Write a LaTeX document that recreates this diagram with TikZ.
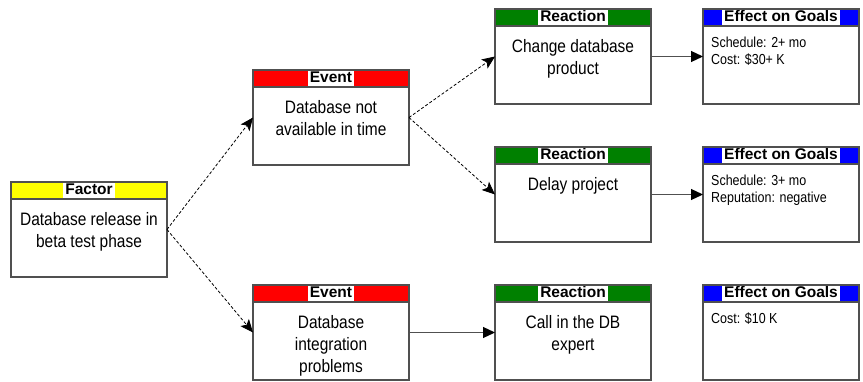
\documentclass[tikz,border=0pt]{standalone}
\usepackage{fontspec}
\setmainfont{Liberation Sans}
\newfontfamily\narrowf[FakeStretch=0.86]{Liberation Sans}
\usetikzlibrary{arrows.meta}
\definecolor{bordergray}{HTML}{505050}
\definecolor{hdryellow}{HTML}{FFFF00}
\definecolor{hdrred}{HTML}{FF0000}
\definecolor{hdrgreen}{HTML}{008000}
\definecolor{hdrblue}{HTML}{0000FF}
\tikzset{
  riskbox/.style={draw=bordergray, line width=1.3pt, minimum width=156pt, minimum height=95pt, inner sep=0pt, outer sep=0pt},
  hdrlabel/.style={fill=white, font=\fontsize{15.5}{15.5}\selectfont\bfseries, inner xsep=2pt, inner ysep=0pt, minimum height=15pt, text height=11pt, text depth=3pt},
  bodytext/.style={font=\narrowf\fontsize{18}{22}\selectfont, align=center, inner sep=0pt, anchor=north},
  effecttext/.style={font=\narrowf\fontsize{14.5}{17}\selectfont, align=left, inner sep=0pt, anchor=north west},
  dasharrow/.style={draw=black, line width=0.8pt, dash pattern=on 3pt off 2pt, -{Stealth[length=13pt,width=11pt,inset=3pt]}},
  solidarrow/.style={draw=bordergray, line width=1.2pt, -{Triangle[length=12pt,width=11pt,fill=black,color=black]}}
}
% name, cx, cy, colour, header, body
\newcommand\mkbox[6]{%
  \fill[#4] (#2-78,#3-47.5) rectangle (#2+78,#3-30.5);
  \node[hdrlabel] (#1h) at (#2,#3-39) {#5};
  \node[bodytext] (#1t) at (#2,#3-18.5) {\rule{0pt}{14pt}#6};
  \node[riskbox] (#1) at (#2,#3) {};
  \draw[bordergray, line width=1.3pt] (#2-78,#3-30.5) -- (#2+78,#3-30.5);
}
\newcommand\mkeffect[6]{%
  \fill[#4] (#2-78,#3-47.5) rectangle (#2+78,#3-30.5);
  \node[hdrlabel] (#1h) at (#2,#3-39) {#5};
  \node[effecttext] (#1t) at (#2-70,#3-20.5) {\rule{0pt}{11pt}#6};
  \node[riskbox] (#1) at (#2,#3) {};
  \draw[bordergray, line width=1.3pt] (#2-78,#3-30.5) -- (#2+78,#3-30.5);
}
\begin{document}
\begin{tikzpicture}[x=1pt,y=-1pt]
\useasboundingbox (0,0) rectangle (863,381);
\mkbox{F}{89}{229.5}{hdryellow}{Factor}{Database release in\\beta test phase}
\mkbox{EA}{331}{117.5}{hdrred}{Event}{Database not\\available in time}
\mkbox{EB}{331}{332.5}{hdrred}{Event}{Database\\integration\\problems}
\mkbox{RA}{573}{56.5}{hdrgreen}{Reaction}{Change database\\product}
\mkbox{RB}{573}{194.5}{hdrgreen}{Reaction}{Delay project}
\mkbox{RC}{573}{332.5}{hdrgreen}{Reaction}{Call in the DB\\expert}
\mkeffect{GA}{781}{56.5}{hdrblue}{Effect on Goals}{Schedule: 2+ mo\\Cost: \$30+ K}
\mkeffect{GB}{781}{194.5}{hdrblue}{Effect on Goals}{Schedule: 3+ mo\\Reputation: negative}
\mkeffect{GC}{781}{332.5}{hdrblue}{Effect on Goals}{Cost: \$10 K}
\draw[dasharrow] (F.east) -- (EA.west);
\draw[dasharrow] (F.east) -- (EB.west);
\draw[dasharrow] (EA.east) -- (RA.west);
\draw[dasharrow] (EA.east) -- (RB.west);
\draw[solidarrow] (EB.east) -- (RC.west);
\draw[solidarrow] (RA.east) -- (GA.west);
\draw[solidarrow] (RB.east) -- (GB.west);
\end{tikzpicture}
\end{document}
